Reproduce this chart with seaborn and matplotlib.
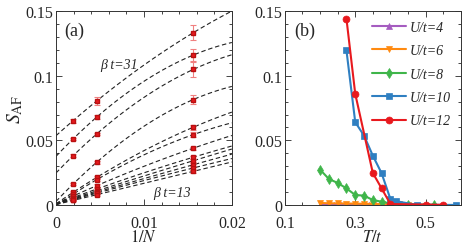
import numpy as np
import pandas as pd
import seaborn as sns
import matplotlib.pyplot as plt
from matplotlib.ticker import MultipleLocator

# ---- panel (a): S_AF vs 1/N, one curve per beta t ----
inv_n = [1 / 512, 1 / 216, 1 / 64]
saf_curves = [
    [0.0653, 0.0805, 0.1333],
    [0.0512, 0.0680, 0.1160],
    [0.0382, 0.0550, 0.1049],
    [0.0163, 0.0331, 0.0816],
    [0.0099, 0.0214, 0.0602],
    [0.0085, 0.0196, 0.0545],
    [0.0070, 0.0150, 0.0440],
    [0.0058, 0.0124, 0.0370],
    [0.0052, 0.0110, 0.0343],
    [0.0047, 0.0100, 0.0312],
    [0.0042, 0.0092, 0.0287],
    [0.0036, 0.0080, 0.0261],
]
saf_errs = [
    [0.0015, 0.0030, 0.0058],
    [0.0010, 0.0015, 0.0050],
    [0.0010, 0.0010, 0.0060],
    [0.0008, 0.0010, 0.0035],
    [0.0008, 0.0010, 0.0020],
    [0.0008, 0.0010, 0.0020],
    [0.0008, 0.0010, 0.0012],
    [0.0008, 0.0010, 0.0012],
    [0.0008, 0.0010, 0.0012],
    [0.0008, 0.0010, 0.0012],
    [0.0008, 0.0010, 0.0012],
    [0.0008, 0.0010, 0.0012],
]

# ---- panel (b): S_AF vs T/t for several U/t ----
labels_b = ["U/t=4", "U/t=6", "U/t=8", "U/t=10", "U/t=12"]
T_u4 = [0.2, 0.22, 0.24, 0.26, 0.28, 0.30, 0.32, 0.34, 0.36, 0.38, 0.40]
S_u4 = [0.0002, 0.0002, 0.0002, 0.0001, 0.0001, 0.0001, 0.0001, 0.0001, 0.0001, 0.0, 0.0]
T_u6 = [0.2, 0.225, 0.25, 0.275, 0.3, 0.325, 0.35, 0.375, 0.4, 0.425, 0.45]
S_u6 = [0.0016, 0.0014, 0.0013, 0.0012, 0.0011, 0.0010, 0.0009, 0.0008, 0.0006, 0.0005, 0.0004]
T_u8 = [0.2, 0.225, 0.25, 0.275, 0.3, 0.325, 0.35, 0.375, 0.4, 0.45, 0.525]
S_u8 = [0.0274, 0.0202, 0.0171, 0.0129, 0.0078, 0.0073, 0.0039, 0.0026, 0.0012, 0.0004, 0.0002]
T_u10 = [0.275, 0.3, 0.325, 0.35, 0.375, 0.4, 0.415, 0.475, 0.5875]
S_u10 = [0.1196, 0.0641, 0.0537, 0.0382, 0.0246, 0.0047, 0.0030, 0.0002, 0.0001]
T_u12 = [0.275, 0.3, 0.35, 0.375, 0.4, 0.5, 0.55]
S_u12 = [0.1441, 0.0860, 0.0248, 0.0129, 0.0008, 0.0004, 0.0002]

colors_b = ["#a55cc0", "#ff8a10", "#3fb54a", "#2f7fc1", "#e8191e"]
markers_b = ["^", "v", "d", "s", "o"]

sns.set_theme(style="ticks")
plt.rcParams["font.family"] = ["Liberation Serif", "DejaVu Serif"]
plt.rcParams["mathtext.fontset"] = "stix"
plt.rcParams["xtick.direction"] = "in"
plt.rcParams["ytick.direction"] = "in"

fig = plt.figure(figsize=(4.64, 2.51), dpi=100)
ax_a = fig.add_axes([0.1207, 0.179, 0.379, 0.773])
ax_b = fig.add_axes([0.614, 0.179, 0.379, 0.773])

# panel (a)
ax_a.set_xlim(0, 0.02)
ax_a.set_ylim(0, 0.15)
for ys, es in zip(saf_curves, saf_errs):
    sns.regplot(x=np.array(inv_n), y=np.array(ys), order=2, ci=None, scatter=False,
                truncate=False, ax=ax_a,
                line_kws=dict(color="#222222", lw=0.8, ls=(0, (4, 2.5)), zorder=2))
    ax_a.errorbar(inv_n, ys, yerr=es, fmt="s", ms=3.4, color="#e8191e", mec="#b81010",
                  ecolor="#f08080", elinewidth=0.8, capsize=2.2, capthick=0.8, zorder=3)
ax_a.set_xlim(0, 0.02)
ax_a.set_ylim(0, 0.15)
ax_a.text(0.005, 0.109, "β t=31", style="italic", fontsize=10, ha="left", va="center")
ax_a.text(0.011, 0.010, "β t=13", style="italic", fontsize=10, ha="left", va="center")
ax_a.text(0.045, 0.9, "(a)", transform=ax_a.transAxes, fontsize=13, va="center")
ax_a.set_xticks([0, 0.01, 0.02])
ax_a.set_xticklabels(["0", "0.01", "0.02"])
ax_a.xaxis.set_minor_locator(MultipleLocator(0.002))
ax_a.set_xlabel("$1/N$", fontsize=12, labelpad=-1)
ax_a.set_ylabel(r"$S_{\rm AF}$", fontsize=14, labelpad=0)

# panel (b)
series_b = [(T_u4, S_u4), (T_u6, S_u6), (T_u8, S_u8), (T_u10, S_u10), (T_u12, S_u12)]
for (tx, sy), lab, col, mk in zip(series_b, labels_b, colors_b, markers_b):
    df = pd.DataFrame({"T": tx, "S": sy})
    sns.lineplot(data=df, x="T", y="S", ax=ax_b, color=col, marker=mk, ms=5,
                 mec=col, mew=0.5, lw=1.5, label=lab)
ax_b.set_xlim(0.1, 0.6)
ax_b.set_ylim(0, 0.15)
ax_b.set_xticks([0.1, 0.3, 0.5])
ax_b.set_xticklabels(["0.1", "0.3", "0.5"])
ax_b.xaxis.set_minor_locator(MultipleLocator(0.05))
ax_b.set_xlabel("$T/t$", fontsize=12, labelpad=-1)
ax_b.set_ylabel("")
ax_b.text(0.055, 0.9, "(b)", transform=ax_b.transAxes, fontsize=13, va="center")
ax_b.legend(loc="upper right", frameon=False, handlelength=2.4,
            labelspacing=0.75, borderaxespad=0.3, handletextpad=0.3,
            prop=dict(family="Liberation Serif", style="italic", size=10))

for ax in (ax_a, ax_b):
    ax.set_yticks([0, 0.05, 0.1, 0.15])
    ax.set_yticklabels(["0", "0.05", "0.1", "0.15"])
    ax.yaxis.set_minor_locator(MultipleLocator(0.01))
    ax.tick_params(which="both", top=True, right=True, labelsize=11.5, width=0.6)
    ax.tick_params(axis="x", which="both", pad=7)
    ax.tick_params(axis="y", which="both", pad=2)
    ax.tick_params(which="major", length=4)
    ax.tick_params(which="minor", length=2)
    for sp in ax.spines.values():
        sp.set_linewidth(0.7)
        sp.set_color("#333333")

fig.savefig("out.png", dpi=100)
